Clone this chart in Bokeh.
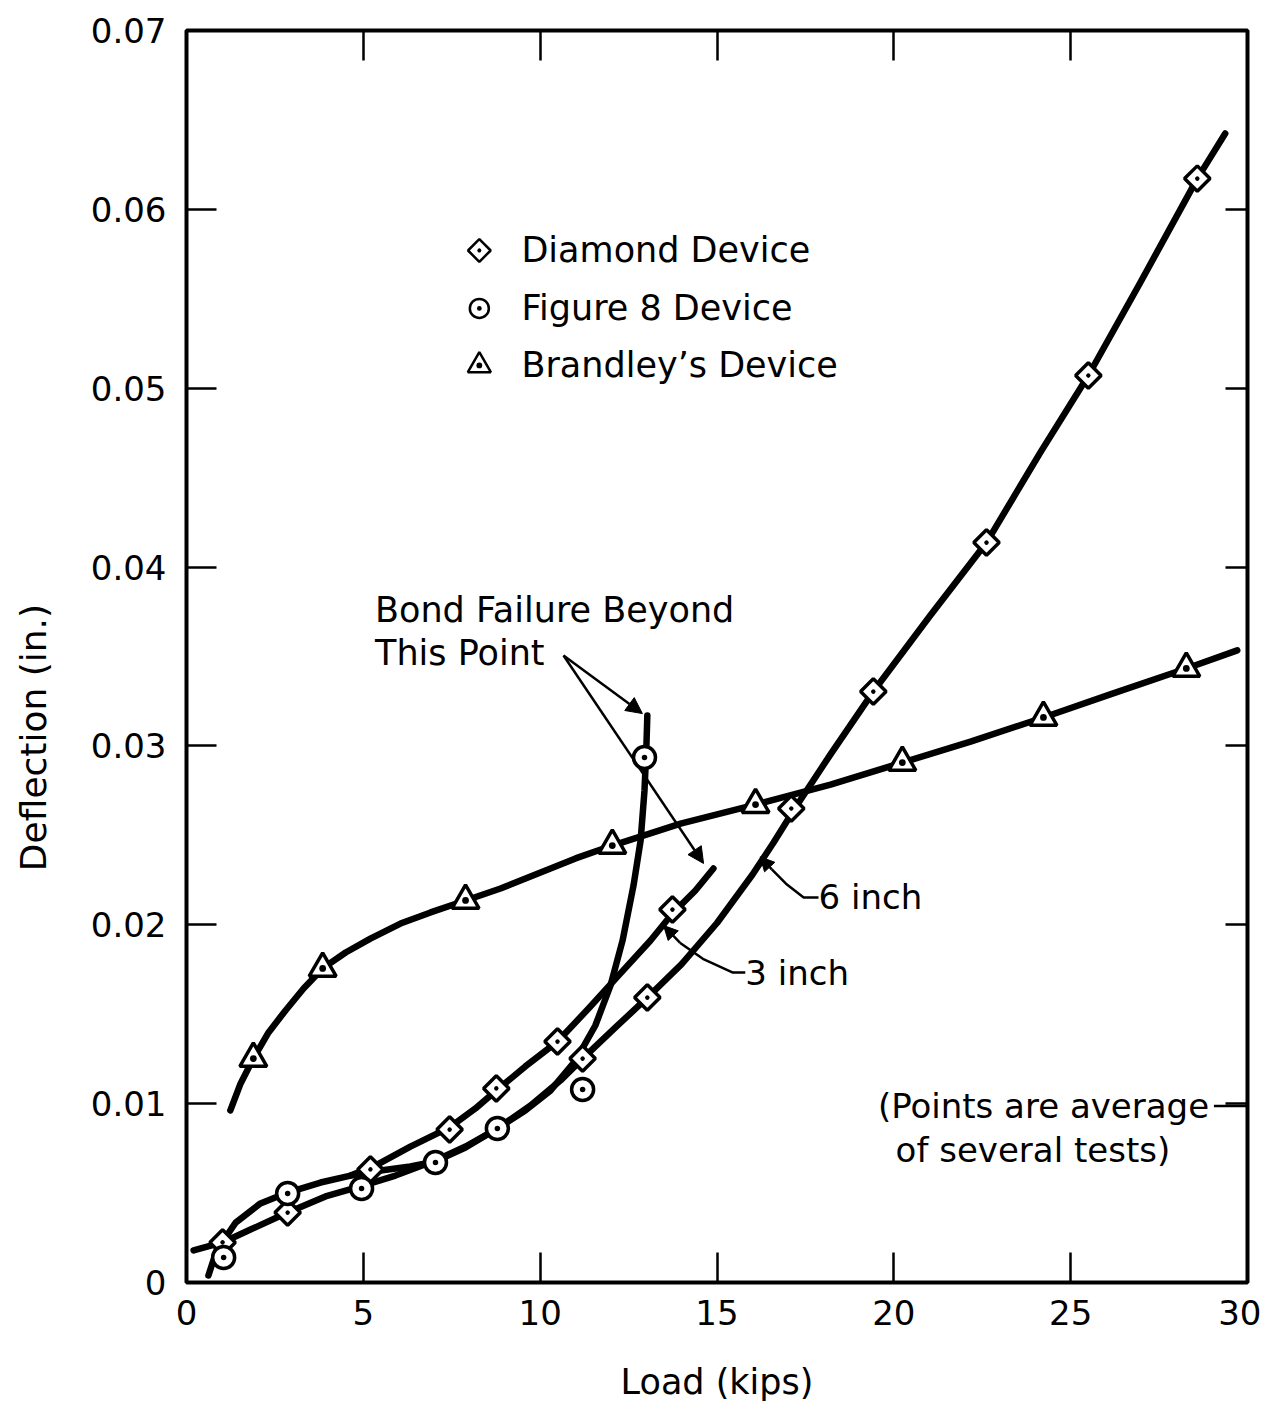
import numpy as np
from bokeh.plotting import figure
from bokeh.layouts import row
from bokeh.models import FixedTicker, LinearAxis, Label, Arrow, NormalHead
from bokeh.core.properties import value
from bokeh.embed import file_html
from bokeh.resources import INLINE

FONT = "DejaVu Sans"

# ---------------- axes ----------------
x_ticks = [0, 5, 10, 15, 20, 25, 30]
x_tick_labels = ["0", "5", "10", "15", "20", "25", "30"]
y_ticks = [0, 0.01, 0.02, 0.03, 0.04, 0.05, 0.06, 0.07]
y_tick_labels = ["0", "0.01", "0.02", "0.03", "0.04", "0.05", "0.06", "0.07"]
x_label = "Load (kips)"
y_label = "Deflection (in.)"

# ---------------- measured points ----------------
diamond_load = [1.02, 2.86, 5.20, 7.44, 8.76, 10.49, 11.20, 13.03, 13.74, 17.10, 19.42, 22.62, 25.50, 28.58]
diamond_defl = [0.00224, 0.00391, 0.00632, 0.00855, 0.01085, 0.01347, 0.01252, 0.01593, 0.02085, 0.02650,
                0.03304, 0.04137, 0.05071, 0.06172]

fig8_load = [1.05, 2.86, 4.95, 7.04, 8.79, 11.20, 12.95]
fig8_defl = [0.0014, 0.00498, 0.00526, 0.00671, 0.00861, 0.01079, 0.02935]

brandley_load = [1.89, 3.85, 7.89, 12.04, 16.09, 20.24, 24.23, 28.27]
brandley_defl = [0.01252, 0.01756, 0.02136, 0.02443, 0.02672, 0.02907, 0.03159, 0.03433]

# ---------------- hand-drawn curves ----------------
brandley_curve_x = [1.24, 1.53, 1.89, 2.32, 2.80, 3.31, 3.85, 4.50, 5.20, 6.05, 6.90, 7.89, 8.88, 10.01,
                    11.00, 12.04, 13.97, 16.09, 18.21, 20.24, 22.17, 24.23, 26.12, 28.27, 29.71]
brandley_curve_y = [0.00962, 0.01113, 0.01252, 0.01398, 0.01521, 0.01644, 0.01756, 0.01845, 0.01923,
                    0.02007, 0.02069, 0.02136, 0.02203, 0.02292, 0.02371, 0.02443, 0.02566, 0.02672,
                    0.02784, 0.02907, 0.03024, 0.03159, 0.03288, 0.03433, 0.03534]

fig8_curve_x = [0.62, 0.85, 1.39, 2.09, 2.86, 3.79, 4.64, 5.49, 6.33, 7.04, 7.89, 8.79, 9.58, 10.29,
                11.00, 11.56, 11.99, 12.33, 12.64, 12.84, 12.95, 13.00, 13.03]
fig8_curve_y = [0.00039, 0.00179, 0.00335, 0.00442, 0.00503, 0.00559, 0.00598, 0.00626, 0.00649,
                0.00677, 0.00755, 0.00861, 0.00962, 0.01073, 0.01241, 0.01437, 0.01661, 0.01912,
                0.02220, 0.02471, 0.02751, 0.02974, 0.03170]

six_inch_x = [0.20, 1.02, 1.81, 2.86, 3.93, 4.92, 5.91, 7.04, 7.89, 8.79, 9.73, 10.57, 11.20, 12.13,
              13.03, 14.00, 15.00, 16.00, 16.60, 17.20, 18.20, 19.42, 21.03, 22.62, 24.14,
              25.50, 26.97, 28.58, 29.37]
six_inch_y = [0.00179, 0.00224, 0.00296, 0.00391, 0.00481, 0.00537, 0.00598, 0.00682, 0.00760,
              0.00861, 0.00990, 0.01129, 0.01252, 0.01426, 0.01593, 0.01780, 0.02010, 0.02280,
              0.02460, 0.02650, 0.02950, 0.03304, 0.03729, 0.04137, 0.04640, 0.05071,
              0.05591, 0.06172, 0.06424]

three_inch_x = [4.64, 5.34, 6.33, 7.44, 8.17, 8.76, 9.58, 10.49, 11.42, 12.27, 13.12, 13.74, 14.39, 14.90]
three_inch_y = [0.00598, 0.00654, 0.00760, 0.00867, 0.00973, 0.01073, 0.01208, 0.01347, 0.01543,
                0.01728, 0.01912, 0.02063, 0.02192, 0.02315]

# ---------------- legend / annotation layout ----------------
legend_labels = ["Diamond Device", "Figure 8 Device", "Brandley\u2019s Device"]
legend_marker_x = 8.28
legend_text_x = 9.47
legend_y = [0.05770, 0.05446, 0.05127]

y_label_y = 0.03047   # vertical centre of the y-axis title, in data units

bond_text = ["Bond Failure Beyond", "This Point"]
bond_text_x = 5.33
bond_text_y = [0.03760, 0.03522]
bond_arrow_start = (10.66, 0.03506)
bond_arrow_ends = [(12.89, 0.03181), (14.62, 0.02343)]

six_leader_x = [17.87, 17.45, 16.95, 16.55]
six_leader_y = [0.02153, 0.02153, 0.02230, 0.02310]
six_tip = (16.22, 0.02380)
three_leader_x = [15.80, 15.45, 14.60, 13.95]
three_leader_y = [0.01733, 0.01733, 0.01810, 0.01900]
three_tip = (13.49, 0.01996)

note_text = ["(Points are average", "of several tests)"]
note_x = [19.55, 20.05]
note_y = [0.00987, 0.00740]
note_dash_x = [29.05, 30.0]
note_dash_y = [0.00987, 0.00987]

# ---------------- y-title strip (narrow figure to the left) ----------------
LABEL_W = 61
side = figure(frame_width=LABEL_W - 5, frame_height=1252, x_range=(0, 1), y_range=(0, 0.07),
              output_backend="svg", toolbar_location=None, x_axis_location=None, y_axis_location=None,
              min_border_left=5, min_border_right=0, min_border_top=30, min_border_bottom=10)
side.grid.visible = False
side.outline_line_color = None
side.background_fill_color = "white"
side.border_fill_color = "white"
side.text(x=[0.5], y=[y_label_y], text=[y_label], angle=np.pi / 2,
          text_font=value(FONT), text_font_size="36px", text_align="center",
          text_baseline="middle", text_color="black")

# ---------------- main figure ----------------
fig = figure(frame_width=1061, frame_height=1252, x_range=(0, 30), y_range=(0, 0.07),
             output_backend="svg", toolbar_location=None,
             min_border_left=186 - LABEL_W, min_border_top=30, min_border_right=14, min_border_bottom=10)
fig.grid.visible = False
fig.outline_line_color = "black"
fig.outline_line_width = 4
fig.background_fill_color = "white"
fig.border_fill_color = "white"


def style_axis(ax, label_size="34px"):
    ax.axis_line_color = None
    ax.major_tick_in = 30
    ax.major_tick_out = 0
    ax.minor_tick_line_color = None
    ax.major_tick_line_width = 2.5
    ax.major_tick_line_color = "black"
    ax.major_label_text_font = FONT
    ax.major_label_text_font_size = label_size
    ax.major_label_text_color = "black"
    ax.axis_label_text_font = FONT
    ax.axis_label_text_font_style = "normal"
    ax.axis_label_text_font_size = "35px"
    ax.axis_label_text_color = "black"


xa = fig.xaxis[0]
xa.ticker = FixedTicker(ticks=x_ticks)
xa.major_label_overrides = dict(zip(x_ticks, x_tick_labels))
style_axis(xa)
xa.major_label_standoff = 17
xa.axis_label = x_label
xa.axis_label_standoff = 34

ya = fig.yaxis[0]
ya.ticker = FixedTicker(ticks=y_ticks)
ya.major_label_overrides = dict(zip(y_ticks, y_tick_labels))
style_axis(ya)
ya.major_label_standoff = 20

top = LinearAxis(ticker=FixedTicker(ticks=x_ticks[1:-1]))
style_axis(top, "1px")
top.major_label_overrides = {t: "" for t in x_ticks}
top.major_label_standoff = 0
fig.add_layout(top, "above")

right = LinearAxis(ticker=FixedTicker(ticks=y_ticks[1:-1]))
style_axis(right, "1px")
right.major_tick_in = 22
right.major_label_overrides = {t: "" for t in y_ticks}
right.major_label_standoff = 0
fig.add_layout(right, "right")

# ---------------- curves ----------------
for cx, cy in [(brandley_curve_x, brandley_curve_y), (fig8_curve_x, fig8_curve_y),
               (six_inch_x, six_inch_y), (three_inch_x, three_inch_y)]:
    fig.line(cx, cy, line_color="black", line_width=6.5, line_cap="round", line_join="round")

# ---------------- markers ----------------
mk = dict(fill_color="white", line_color="black", line_width=3.5)
fig.scatter(diamond_load, diamond_defl, marker="square_dot", size=18, angle=np.pi / 4, **mk)
fig.scatter(fig8_load, fig8_defl, marker="circle_dot", size=22, **mk)
fig.scatter(brandley_load, brandley_defl, marker="triangle_dot", size=27, **mk)

# ---------------- legend (drawn) ----------------
lx = [legend_marker_x] * 3
lk = dict(fill_color="white", line_color="black", line_width=2.5)
fig.scatter(lx[:1], legend_y[:1], marker="square_dot", size=16, angle=np.pi / 4, **lk)
fig.scatter(lx[1:2], legend_y[1:2], marker="circle_dot", size=19, **lk)
fig.scatter(lx[2:], legend_y[2:], marker="triangle_dot", size=23, **lk)
for t, yy in zip(legend_labels, legend_y):
    fig.add_layout(Label(x=legend_text_x, y=yy, text=t, text_font=FONT, text_font_size="35px",
                         text_baseline="middle", text_color="black"))

# ---------------- annotations ----------------
for t, yy in zip(bond_text, bond_text_y):
    fig.add_layout(Label(x=bond_text_x, y=yy, text=t, text_font=FONT, text_font_size="35px",
                         text_baseline="middle", text_color="black"))
for ex, ey in bond_arrow_ends:
    fig.add_layout(Arrow(x_start=bond_arrow_start[0], y_start=bond_arrow_start[1], x_end=ex, y_end=ey,
                         line_width=2.5, line_color="black",
                         end=NormalHead(size=16, fill_color="black", line_color="black", line_width=1)))

fig.line(six_leader_x, six_leader_y, line_color="black", line_width=2.5)
fig.add_layout(Arrow(x_start=six_leader_x[-1], y_start=six_leader_y[-1], x_end=six_tip[0], y_end=six_tip[1],
                     line_width=2.5, line_color="black",
                     end=NormalHead(size=14, fill_color="black", line_color="black", line_width=1)))
fig.line(three_leader_x, three_leader_y, line_color="black", line_width=2.5)
fig.add_layout(Arrow(x_start=three_leader_x[-1], y_start=three_leader_y[-1], x_end=three_tip[0],
                     y_end=three_tip[1], line_width=2.5, line_color="black",
                     end=NormalHead(size=14, fill_color="black", line_color="black", line_width=1)))
fig.add_layout(Label(x=six_leader_x[0], y=six_leader_y[0], text="6 inch", text_font=FONT,
                     text_font_size="34px", text_baseline="middle", text_color="black"))
fig.add_layout(Label(x=three_leader_x[0], y=three_leader_y[0], text="3 inch", text_font=FONT,
                     text_font_size="34px", text_baseline="middle", text_color="black"))

for t, xx, yy in zip(note_text, note_x, note_y):
    fig.add_layout(Label(x=xx, y=yy, text=t, text_font=FONT, text_font_size="34px",
                         text_baseline="middle", text_color="black"))
fig.line(note_dash_x, note_dash_y, line_color="black", line_width=2.5)

p = row(side, fig, spacing=0)
open("out.html", "w").write(file_html(p, INLINE))
